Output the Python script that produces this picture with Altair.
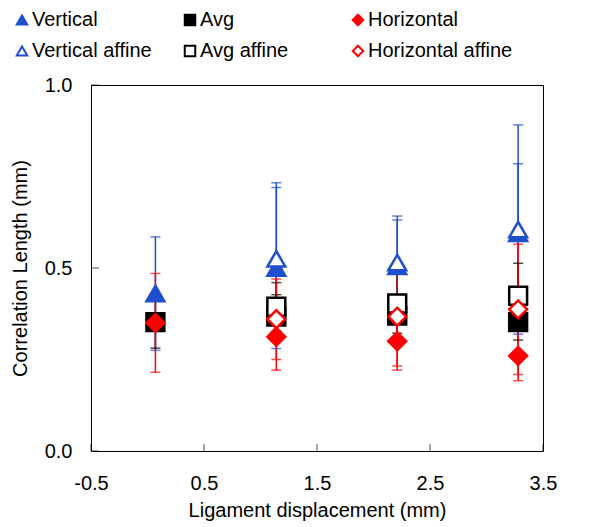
import altair as alt
import pandas as pd

# ---- data ----
x_vals = [0.07, 1.14, 2.21, 3.28]

series_names = ["Vertical", "Avg", "Horizontal",
                "Vertical affine", "Avg affine", "Horizontal affine"]

vertical = [0.43, 0.50, 0.505, 0.595]
vertical_err = [0.155, 0.22, 0.126, 0.19]
avg = [0.352, 0.367, 0.37, 0.352]
avg_err = [0.071, 0.06, 0.048, 0.049]
horizontal = [0.35, 0.312, 0.30, 0.26]
horizontal_err = [0.135, 0.091, 0.079, 0.068]

vertical_aff = [None, 0.525, 0.515, 0.605]
vertical_aff_err = [None, 0.208, 0.127, 0.286]
avg_aff = [None, 0.394, 0.403, 0.424]
avg_aff_err = [None, 0.066, 0.10, 0.089]
horizontal_aff = [None, 0.36, 0.367, 0.387]
horizontal_aff_err = [None, 0.11, 0.135, 0.178]

x_tick_vals = [-0.5, 0.5, 1.5, 2.5, 3.5]
y_tick_vals = [0.0, 0.5, 1.0]

# ---- styling ----
BLUE = "#1f4fcc"
RED = "#ff0000"
BLACK = "#000000"
stroke_range = [BLUE, BLACK, RED, BLUE, BLACK, RED]
fill_range = [BLUE, BLACK, RED, "#ffffff", "#ffffff", "#ffffff"]
shape_range = ["triangle-up", "square", "diamond",
               "triangle-up", "square", "diamond"]
FONT = "Liberation Sans"

values = [vertical, avg, horizontal, vertical_aff, avg_aff, horizontal_aff]
errors = [vertical_err, avg_err, horizontal_err,
          vertical_aff_err, avg_aff_err, horizontal_aff_err]

rows = []
for i, name in enumerate(series_names):
    for j, x in enumerate(x_vals):
        v = values[i][j]
        e = errors[i][j]
        if v is None:
            continue
        rows.append({"series": name, "order": i, "x": x, "y": v,
                     "lo": v - e, "hi": v + e, "ecolor": stroke_range[i]})
df = pd.DataFrame(rows)

xscale = alt.Scale(domain=[-0.5, 3.5], nice=False, zero=False)
yscale = alt.Scale(domain=[0, 1], nice=False)

xaxis = alt.Axis(values=x_tick_vals, format=".1f",
                 labelExpr="replace(datum.label, '\u2212', '-')",
                 title="Ligament displacement (mm)",
                 labelFlush=False, labelOverlap=False,
                 labelPadding=22, titlePadding=7)
yaxis = alt.Axis(values=y_tick_vals, format=".1f",
                 title="Correlation Length (mm)",
                 labelFlush=False, labelOverlap=False,
                 labelPadding=19, titlePadding=14)

base = alt.Chart(df)

err_rule = base.mark_rule(strokeWidth=1.5).encode(
    x=alt.X("x:Q", scale=xscale, axis=xaxis),
    y=alt.Y("lo:Q", scale=yscale, axis=yaxis),
    y2="hi:Q",
    color=alt.Color("ecolor:N", scale=None),
)
cap_lo = base.mark_tick(orient="horizontal", size=10, thickness=1.5).encode(
    x="x:Q", y="lo:Q", color=alt.Color("ecolor:N", scale=None))
cap_hi = base.mark_tick(orient="horizontal", size=10, thickness=1.5).encode(
    x="x:Q", y="hi:Q", color=alt.Color("ecolor:N", scale=None))

legend = alt.Legend(
    title=None, orient="none", legendX=-79, legendY=-75,
    direction="horizontal", columns=3, gridAlign="all",
    columnPadding=3, rowPadding=11, symbolSize=110,
    symbolStrokeWidth=2, labelFontSize=20, labelFont=FONT,
    labelColor="black", labelOffset=0, symbolOffset=0)

points = base.mark_point(filled=True, size=320, strokeWidth=2.5,
                         opacity=1).encode(
    x="x:Q",
    y="y:Q",
    shape=alt.Shape("series:N", sort=series_names,
                    scale=alt.Scale(domain=series_names, range=shape_range),
                    legend=legend),
    fill=alt.Fill("series:N", sort=series_names,
                  scale=alt.Scale(domain=series_names, range=fill_range),
                  legend=legend),
    stroke=alt.Stroke("series:N", sort=series_names,
                      scale=alt.Scale(domain=series_names, range=stroke_range),
                      legend=legend),
    order=alt.Order("order:Q"),
)

ytick_df = pd.DataFrame({"x": [-0.5] * len(y_tick_vals), "y": y_tick_vals})
xtick_df = pd.DataFrame({"x": x_tick_vals, "y": [0.0] * len(x_tick_vals)})

yticks = alt.Chart(ytick_df).mark_tick(
    orient="horizontal", size=8, thickness=1, color="black", xOffset=4
).encode(x="x:Q", y="y:Q")
xticks = alt.Chart(xtick_df).mark_tick(
    orient="vertical", size=7, thickness=1, color="black", yOffset=-3.5
).encode(x="x:Q", y="y:Q")

chart = alt.layer(err_rule, cap_lo, cap_hi, points, yticks, xticks).properties(
    width=452, height=366,
    background="white",
    autosize=alt.AutoSizeParams(type="none"),
    padding={"left": 83, "top": 77, "right": 41, "bottom": 76},
).configure_view(
    stroke="black", strokeWidth=1
).configure_axis(
    domain=False, ticks=False, grid=False,
    labelFont=FONT, labelFontSize=20, labelColor="black",
    titleFont=FONT, titleFontSize=20, titleColor="black",
    titleFontWeight="normal",
)

chart.save("out.html", embed_options={"renderer": "svg", "actions": False})
